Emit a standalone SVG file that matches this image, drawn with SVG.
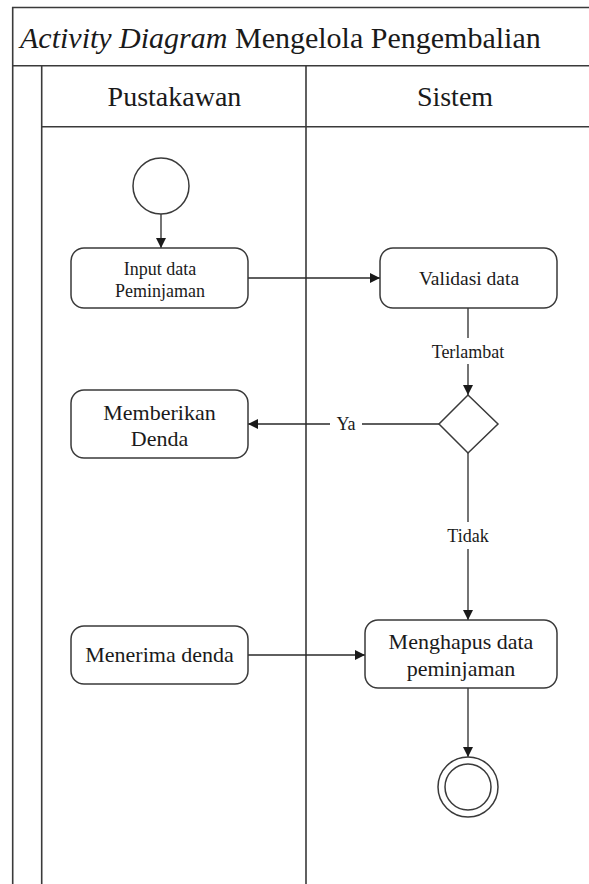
<svg xmlns="http://www.w3.org/2000/svg" width="589" height="884" viewBox="0 0 589 884">
<defs>
<style>
.frame{fill:none;stroke:#3a3a3a;stroke-width:1.6}
.node{fill:#fff;stroke:#3a3a3a;stroke-width:1.5}
.edge{fill:none;stroke:#2a2a2a;stroke-width:1.3}
text, tspan{font-family:"Liberation Serif","Times New Roman",Times,"DejaVu Serif","Noto Serif",serif;fill:#1a1a1a}
.t{font-size:22px;text-anchor:middle}
.ts{font-size:18px;text-anchor:middle}
.h{font-size:28px;text-anchor:middle}
.lbl{font-size:18px;text-anchor:middle}
</style>
<marker id="arr" viewBox="0 0 10 10" refX="10" refY="5" markerWidth="10" markerHeight="10" markerUnits="userSpaceOnUse" orient="auto">
<path d="M0,0 L10,5 L0,10 z" fill="#1a1a1a"/>
</marker>
</defs>
<g id="frame">
<path class="frame" d="M12.7,884 V7.5 H589 M12.7,65.7 H589 M41.7,65.7 V884 M41.7,126.7 H589 M306,65.7 V884"/>
<text x="20" y="48" font-size="30"><tspan font-style="italic">Activity Diagram</tspan> Mengelola Pengembalian</text>
<text class="h" x="174.5" y="106">Pustakawan</text>
<text class="h" x="455" y="106">Sistem</text>
</g>
<g id="edges">
<path class="edge" d="M161,214 V248" marker-end="url(#arr)"/>
<path class="edge" d="M248,278 H380" marker-end="url(#arr)"/>
<path class="edge" d="M468,308 V338"/>
<path class="edge" d="M468,364 V395" marker-end="url(#arr)"/>
<path class="edge" d="M439,424 H362 M330,424 H248" marker-end="url(#arr)"/>
<path class="edge" d="M468,453 V522"/>
<path class="edge" d="M468,549 V620" marker-end="url(#arr)"/>
<path class="edge" d="M248,655 H365" marker-end="url(#arr)"/>
<path class="edge" d="M468,688 V757" marker-end="url(#arr)"/>
<text class="lbl" x="468" y="358">Terlambat</text>
<text class="lbl" x="346" y="430">Ya</text>
<text class="lbl" x="468" y="542">Tidak</text>
</g>
<g id="start"><circle class="node" cx="161" cy="186" r="28"/></g>
<g id="input"><rect class="node" x="71" y="248" width="177" height="60" rx="13"/>
<text class="ts" x="160" y="275">Input data</text><text class="ts" x="160" y="297">Peminjaman</text></g>
<g id="validasi"><rect class="node" x="380" y="248" width="177" height="60" rx="13"/>
<text class="ts" x="469" y="285" style="font-size:19.5px">Validasi data</text></g>
<g id="decision"><path class="node" d="M468,395 L498,424 L468,453 L439,424 z"/></g>
<g id="memberikan"><rect class="node" x="71" y="390" width="177" height="68" rx="13"/>
<text class="t" x="159.5" y="420">Memberikan</text><text class="t" x="159.5" y="446">Denda</text></g>
<g id="menerima"><rect class="node" x="71" y="626" width="177" height="58" rx="13"/>
<text class="t" x="159.5" y="662">Menerima denda</text></g>
<g id="menghapus"><rect class="node" x="365" y="620" width="192" height="68" rx="13"/>
<text class="t" x="461" y="649">Menghapus data</text><text class="t" x="461" y="676">peminjaman</text></g>
<g id="end"><circle class="node" cx="468" cy="787" r="30"/><circle class="node" cx="468" cy="787" r="23"/></g>
</svg>
